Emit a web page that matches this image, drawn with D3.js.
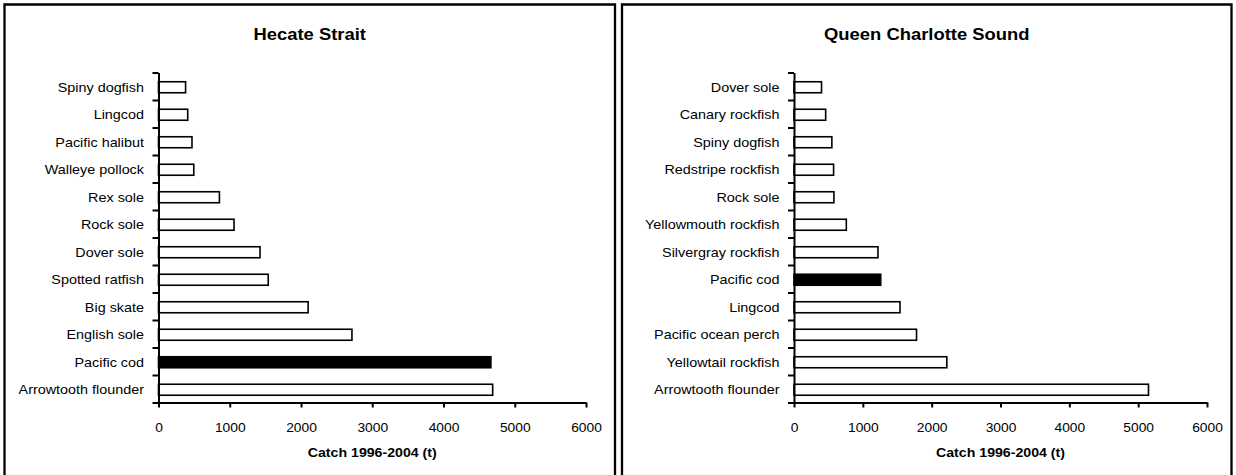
<!DOCTYPE html>
<html>
<head>
<meta charset="utf-8">
<script src="https://cdn.jsdelivr.net/npm/d3@7"></script>
<style>
  html, body { margin: 0; padding: 0; background: #fff; }
  svg { display: block; }
  text { font-family: "Liberation Sans", Arial, Helvetica, sans-serif; fill: #000; }
</style>
</head>
<body>
<svg id="chart" width="1236" height="475"></svg>
<script>
// Groundfish catch 1996-2004 (tonnes), species listed top to bottom
const hecateSpecies = [
  "Spiny dogfish", "Lingcod", "Pacific halibut", "Walleye pollock", "Rex sole",
  "Rock sole", "Dover sole", "Spotted ratfish", "Big skate", "English sole",
  "Pacific cod", "Arrowtooth flounder"
];
const hecateCatch = [380, 410, 470, 495, 855, 1060, 1425, 1540, 2100, 2715, 4665, 4690];

const qcsSpecies = [
  "Dover sole", "Canary rockfish", "Spiny dogfish", "Redstripe rockfish", "Rock sole",
  "Yellowmouth rockfish", "Silvergray rockfish", "Pacific cod", "Lingcod",
  "Pacific ocean perch", "Yellowtail rockfish", "Arrowtooth flounder"
];
const qcsCatch = [400, 460, 550, 575, 580, 760, 1220, 1260, 1540, 1780, 2220, 5150];

const xTickValues = [0, 1000, 2000, 3000, 4000, 5000, 6000];
const xMax = 6000;
const highlightSpecies = "Pacific cod";
const xAxisTitle = "Catch 1996-2004 (t)";

const panels = [
  { title: "Hecate Strait", species: hecateSpecies, values: hecateCatch,
    box: [4.5, 4.5, 615, 480], plot: [158.5, 586] },
  { title: "Queen Charlotte Sound", species: qcsSpecies, values: qcsCatch,
    box: [622, 4.5, 1231.5, 480], plot: [794, 1207] }
];

const plotTop = 72.5, plotBottom = 402.5;
const SX = 1.15; // horizontal text stretch

const svg = d3.select("#chart");

panels.forEach(p => {
  const g = svg.append("g");
  const [bx0, by0, bx1, by1] = p.box;

  // panel frame (open at the bottom edge of the page)
  g.append("path")
    .attr("d", `M${bx0},${by1} V${by0} H${bx1} V${by1}`)
    .attr("fill", "none").attr("stroke", "#000").attr("stroke-width", 2.3);

  // title
  g.append("text")
    .attr("transform", `translate(${(bx0 + bx1) / 2},40) scale(${SX},1)`)
    .attr("text-anchor", "middle")
    .style("font-size", "16px").style("font-weight", "bold")
    .text(p.title);

  const x = d3.scaleLinear().domain([0, xMax]).range(p.plot);
  const y = d3.scaleBand().domain(p.species).range([plotTop, plotBottom])
    .paddingInner(0.6).paddingOuter(0.3);
  const yIdx = d3.scaleLinear().domain([0, p.species.length]).range([plotTop, plotBottom]);
  const step = y.step();

  // bars
  g.selectAll("rect.bar")
    .data(p.species.map((s, i) => ({ s, v: p.values[i] })))
    .join("rect")
    .attr("class", "bar")
    .attr("x", x(0))
    .attr("y", d => y(d.s) + 1)
    .attr("width", d => x(d.v) - x(0))
    .attr("height", y.bandwidth())
    .attr("fill", d => d.s === highlightSpecies ? "#000" : "#fff")
    .attr("stroke", "#000").attr("stroke-width", 1.6);

  // category axis with ticks between bars
  const yAxis = g.append("g")
    .attr("transform", `translate(${x(0)},0)`)
    .call(d3.axisLeft(yIdx).tickValues(d3.range(p.species.length + 1))
      .tickFormat("").tickSize(6).tickSizeOuter(0));
  yAxis.select(".domain").attr("stroke-width", 2);
  yAxis.selectAll(".tick line").attr("stroke-width", 2);

  // category labels
  g.selectAll("text.cat")
    .data(p.species)
    .join("text")
    .attr("class", "cat")
    .attr("text-anchor", "end")
    .attr("transform", d => `translate(${x(0) - 14.5},${y(d) + y.bandwidth() / 2 + 1}) scale(${SX},1)`)
    .attr("dy", "0.35em")
    .style("font-size", "12.5px")
    .text(d => d);

  // value axis
  const xAxis = g.append("g")
    .attr("transform", `translate(0,${plotBottom})`)
    .call(d3.axisBottom(x).tickValues(xTickValues).tickFormat(d3.format("d"))
      .tickSize(5).tickSizeOuter(0).tickPadding(15.8));
  xAxis.select(".domain").attr("stroke-width", 2);
  xAxis.selectAll(".tick line").attr("stroke-width", 2);
  xAxis.selectAll(".tick text")
    .attr("transform", `scale(${SX},1)`)
    .style("font-family", "'Liberation Sans', Arial, sans-serif")
    .style("font-size", "12px");
  xAxis.attr("font-family", null).attr("font-size", null);

  g.append("text")
    .attr("transform", `translate(${(p.plot[0] + p.plot[1]) / 2},457) scale(1.18,1)`)
    .attr("text-anchor", "middle")
    .style("font-size", "12px").style("font-weight", "bold")
    .text(xAxisTitle);
});
</script>
</body>
</html>
